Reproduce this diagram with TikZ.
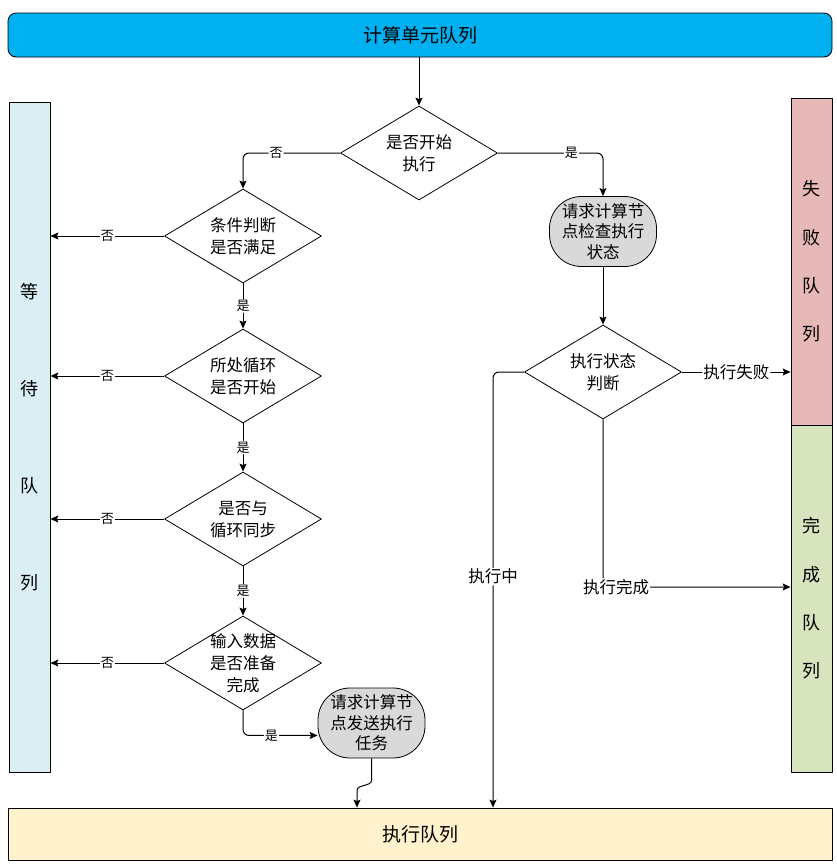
\documentclass[tikz,border=0pt]{standalone}
\usepackage{fontspec}
\setmainfont{Noto Sans CJK SC}
\usetikzlibrary{shapes.geometric,arrows.meta}
\definecolor{topblue}{HTML}{00B0F0}
\definecolor{waitblue}{HTML}{DAEEF3}
\definecolor{failred}{HTML}{E6B9B8}
\definecolor{donegreen}{HTML}{D7E4BD}
\definecolor{execyellow}{HTML}{FFF2CC}
\definecolor{taskgray}{HTML}{D9D9D9}
\begin{document}
\begin{tikzpicture}[x=1pt, y=-1pt, line join=round, >={Stealth[length=8pt,width=7pt,inset=1.5pt]},
  judge/.style={diamond, draw, line width=0.8pt, aspect=1.67, minimum width=157pt, minimum height=94pt, inner sep=-6pt, align=center, font=\fontsize{16.5}{22}\selectfont},
  task/.style={rectangle, rounded corners=32pt, draw, line width=0.8pt, fill=taskgray, minimum width=107pt, minimum height=70pt, inner sep=0pt, align=center, font=\fontsize{16.5}{20.5}\selectfont},
  queue/.style={rectangle, draw, line width=0.8pt, inner sep=0pt, align=center},
  flow/.style={->, line width=1pt, rounded corners=6pt},
  lbl/.style={fill=white, inner sep=1pt, font=\fontsize{16.5}{18}\selectfont},
  yn/.style={fill=white, inner sep=1pt, font=\fontsize{13}{15}\selectfont}]
\useasboundingbox (0,0) rectangle (836,865);
\node[queue, rounded corners=8pt, fill=topblue, minimum width=824pt, minimum height=44pt, font=\fontsize{19}{22}\selectfont] (top) at (420,35) {计算单元队列};
\node[queue, fill=waitblue, minimum width=41pt, minimum height=670pt, font=\fontsize{18}{97}\selectfont] (wait) at (29.5,437) {等\\待\\队\\列};
\node[queue, fill=failred, minimum width=41pt, minimum height=327pt, font=\fontsize{18}{48.3}\selectfont] (fail) at (811.5,261.5) {失\\败\\队\\列};
\node[queue, fill=donegreen, minimum width=41pt, minimum height=347pt, font=\fontsize{18}{48.3}\selectfont] (done) at (811.5,598.5) {完\\成\\队\\列};
\node[queue, fill=execyellow, minimum width=824pt, minimum height=52pt, font=\fontsize{19}{22}\selectfont] (exec) at (420,834) {执行队列};
\node[judge] (D0) at (419,153) {是否开始\\执行};
\node[judge] (D1) at (243,236) {条件判断\\是否满足};
\node[judge] (D2) at (243,376) {所处循环\\是否开始};
\node[judge] (D3) at (243,519) {是否与\\循环同步};
\node[judge] (D4) at (243,663) {输入数据\\是否准备\\完成};
\node[task] (R2) at (371.5,723) {请求计算节\\点发送执行\\任务};
\node[task] (R1) at (603,231.5) {请求计算节\\点检查执行\\状态};
\node[judge] (D5) at (603,372) {执行状态\\判断};
\draw[flow] (D0 |- top.south) -- (D0.north);
\draw[flow] (D0.west) -| node[yn, pos=0.33] {否} (D1.north);
\draw[flow] (D0.east) -| node[yn, pos=0.35] {是} (R1.north);
\draw[flow] (D1.west) -- node[yn] {否} (D1.west -| wait.east);
\draw[flow] (D2.west) -- node[yn] {否} (D2.west -| wait.east);
\draw[flow] (D3.west) -- node[yn] {否} (D3.west -| wait.east);
\draw[flow] (D4.west) -- node[yn] {否} (D4.west -| wait.east);
\draw[flow] (D1.south) -- node[yn] {是} (D2.north);
\draw[flow] (D2.south) -- node[yn] {是} (D3.north);
\draw[flow] (D3.south) -- node[yn] {是} (D4.north);
\draw[flow] (D4.south) |- node[yn, pos=0.69] {是} (R2.193);
\draw[flow] (R2.south) -- ++(0,16) .. controls +(0,12) and +(0,-12) .. ++(-14.5,22) -- (357,0 |- exec.north);
\draw[flow] (R1.south) -- (D5.north);
\draw[flow] (D5.east) -- node[lbl] {执行失败} (D5.east -| fail.west);
\draw[flow] (D5.west) -| node[lbl, pos=0.735] {执行中} (493,0 |- exec.north);
\draw[flow] (D5.south) |- node[lbl, pos=0.535] {执行完成} (done.west |- 0,587);
\end{tikzpicture}
\end{document}
